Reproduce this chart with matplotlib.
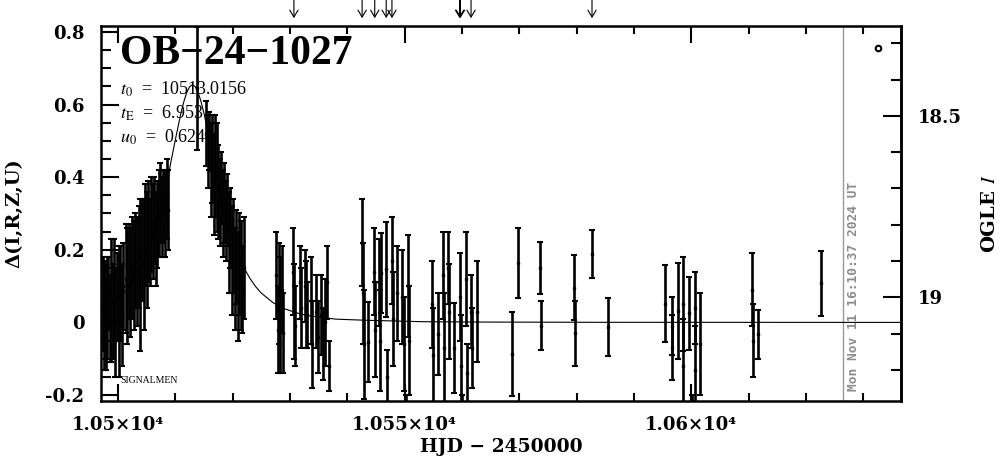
import matplotlib
matplotlib.use("Agg")
import matplotlib.pyplot as plt
from matplotlib.ticker import MultipleLocator, FixedLocator, FixedFormatter

# ---------------- data ----------------
OBS_T = [10497.38, 10497.56, 10497.73, 10497.99, 10498.17, 10498.34, 10498.60, 10498.87,
         10499.13, 10499.30, 10499.56, 10499.83, 10500.17, 10500.44, 10500.70, 10500.96,
         10501.40, 10501.66, 10501.92, 10502.18, 10502.53, 10502.79, 10503.05, 10503.40,
         10503.66, 10503.93, 10504.19,
         10504.54, 10504.80, 10505.06, 10505.32, 10505.58, 10505.85, 10506.11, 10506.37,
         10506.63, 10506.89,
         10507.16, 10507.42, 10507.68, 10507.94, 10508.20, 10508.55, 10508.81,
         10513.79,
         10515.45, 10515.71, 10515.97, 10516.23, 10516.49, 10516.75, 10517.02, 10517.28,
         10517.54, 10517.80, 10518.06, 10518.32, 10518.59, 10518.85, 10519.11,
         10519.37, 10519.63, 10519.90, 10520.16, 10520.42, 10520.68, 10520.94, 10521.20,
         10521.47, 10521.73, 10521.99,
         10527.66, 10527.84, 10528.10, 10528.36, 10528.62, 10528.88, 10530.54, 10530.72,
         10530.89, 10531.68, 10531.94, 10532.55, 10532.81, 10533.07, 10533.60, 10533.86,
         10534.64, 10534.90, 10535.51, 10535.78, 10536.04, 10536.56, 10536.74,
         10542.58, 10542.76, 10542.93, 10543.63, 10544.59, 10544.76, 10545.46, 10545.64,
         10545.90, 10546.68, 10546.86, 10547.73, 10547.91, 10548.60, 10549.56, 10549.83,
         10550.17, 10550.52, 10550.79,
         10554.71, 10554.89, 10555.76, 10556.63, 10556.81, 10557.59, 10557.77, 10558.64,
         10559.60, 10559.77, 10560.03, 10560.65, 10560.82, 10561.52, 10561.69, 10562.65,
         10568.76, 10569.86, 10573.68, 10573.74, 10579.63, 10579.70, 10582.67, 10585.57,
         10595.51, 10596.63, 10596.70, 10597.68, 10598.50, 10598.60, 10599.70, 10600.11,
         10600.64, 10600.70, 10601.62, 10610.65, 10610.72, 10611.64, 10622.57]
OBS_D = [0.05, 0.02, 0.06, -0.01, 0.04, 0.08, 0.01, 0.06,
         0.03, 0.09, 0.00, 0.07, 0.03, 0.08, 0.02, 0.10,
         0.12, 0.10, 0.14, 0.11, 0.15, 0.13, 0.17, 0.14,
         0.18, 0.13, 0.20,
         0.16, 0.24, 0.20, 0.25, 0.22, 0.27, 0.25, 0.28,
         0.23, 0.27,
         0.30, 0.33, 0.29, 0.32, 0.30, 0.34, 0.31,
         0.645,
         0.52, 0.47, 0.50, 0.42, 0.45, 0.38, 0.43, 0.40,
         0.36, 0.33, 0.37, 0.30, 0.33, 0.28, 0.31,
         0.22, 0.26, 0.17, 0.21, 0.12, 0.18, 0.10, 0.16,
         0.13, 0.09, 0.15,
         0.13, -0.02, 0.08, 0.02, 0.09, -0.03, 0.14, 0.03,
         -0.01, 0.11, 0.04, 0.10, 0.05, 0.02, 0.06, -0.06,
         0.03, -0.04, 0.02, -0.06, 0.00, 0.11, -0.12,
         0.22, 0.08, -0.06, -0.055, 0.14, -0.02, 0.11, -0.05,
         0.137, 0.146, -0.15, 0.17, 0.01, 0.08, 0.07, -0.06,
         -0.30, 0.10, -0.05,
         0.05, -0.09, -0.032, 0.13, -0.07, 0.15, 0.03, -0.07,
         0.07, -0.12, -0.31, 0.12, -0.14, 0.03, -0.07, 0.03,
         -0.087, 0.164, 0.149, -0.009, 0.096, -0.03, 0.188, -0.012,
         0.052, -0.01, -0.07, 0.031, 0.05, -0.12, 0.025, -0.30,
         0.04, -0.13, -0.06, 0.09, -0.05, -0.033, 0.108]
OBS_E = [0.13, 0.15, 0.11, 0.12, 0.14, 0.10, 0.12, 0.17,
         0.13, 0.14, 0.15, 0.12, 0.18, 0.13, 0.14, 0.12,
         0.15, 0.16, 0.13, 0.15, 0.14, 0.15, 0.13, 0.15,
         0.14, 0.21, 0.14,
         0.18, 0.14, 0.16, 0.14, 0.12, 0.13, 0.13, 0.12,
         0.13, 0.12,
         0.12, 0.11, 0.11, 0.10, 0.12, 0.11, 0.11,
         0.17,
         0.09, 0.10, 0.08, 0.13, 0.12, 0.14, 0.14, 0.15,
         0.13, 0.12, 0.10, 0.12, 0.11, 0.11, 0.10,
         0.14, 0.11, 0.15, 0.13, 0.14, 0.13, 0.15, 0.14,
         0.15, 0.12, 0.14,
         0.12, 0.12, 0.14, 0.16, 0.12, 0.11, 0.12, 0.13,
         0.11, 0.10, 0.11, 0.10, 0.12, 0.09, 0.12, 0.12,
         0.10, 0.10, 0.11, 0.10, 0.12, 0.10, 0.07,
         0.12, 0.14, 0.15, 0.11, 0.12, 0.13, 0.12, 0.14,
         0.11, 0.13, 0.075, 0.12, 0.13, 0.13, 0.13, 0.13,
         0.10, 0.14, 0.15,
         0.12, 0.13, 0.113, 0.12, 0.15, 0.10, 0.13, 0.124,
         0.12, 0.14, 0.11, 0.13, 0.08, 0.10, 0.11, 0.14,
         0.115, 0.096, 0.072, 0.067, 0.09, 0.09, 0.067, 0.08,
         0.106, 0.08, 0.09, 0.133, 0.13, 0.13, 0.10, 0.10,
         0.10, 0.12, 0.14, 0.10, 0.10, 0.067, 0.09]

# microlensing model curve
MODEL_T = [10497.0, 10499.0, 10501.0, 10502.0, 10503.0, 10504.0, 10505.0, 10506.0,
           10507.0, 10508.0, 10509.0, 10510.0, 10511.0, 10511.5, 10512.0, 10512.5,
           10513.0, 10513.5, 10514.0, 10514.5, 10515.0, 10516.0, 10517.0, 10518.0,
           10519.0, 10520.0, 10521.0, 10522.0, 10523.0, 10524.0, 10525.0, 10527.0,
           10529.0, 10531.0, 10533.0, 10538.0, 10543.0, 10553.0, 10563.0, 10583.0,
           10637.0]
MODEL_D = [0.038, 0.055, 0.081, 0.099, 0.122, 0.150, 0.186, 0.230,
           0.284, 0.348, 0.422, 0.502, 0.577, 0.608, 0.633, 0.649,
           0.655, 0.649, 0.633, 0.608, 0.577, 0.502, 0.422, 0.348,
           0.284, 0.230, 0.186, 0.150, 0.122, 0.099, 0.081, 0.055,
           0.038, 0.027, 0.019, 0.009, 0.006, 0.002, 0.001, 0.0003,
           0.0]

ARROW_T = [10530.7, 10542.6, 10544.8, 10546.8, 10547.8, 10559.6, 10559.75, 10561.6, 10582.7]

TITLE = "OB\u221224\u22121027"
PARAMS = [r"$t_0$  =  10513.0156", r"$t_\mathrm{E}$  =  6.953", r"$u_0$  =  0.6244"]
DATE_T = 10626.4
DATE_TEXT = "Mon Nov 11 16:10:37 2024 UT"
I_BASE = 19.069
X_TICKS = [10500, 10550, 10600]
X_LABELS = ["1.05\u00d710\u2074", "1.055\u00d710\u2074", "1.06\u00d710\u2074"]
Y_TICKS = [-0.2, 0.0, 0.2, 0.4, 0.6, 0.8]
Y_LABELS = ["-0.2", "0", "0.2", "0.4", "0.6", "0.8"]
MAG_TICKS = [18.5, 19.0]
MAG_LABELS = ["18.5", "19"]

# ---------------- figure ----------------
plt.rcParams['font.family'] = ['DejaVu Serif']
plt.rcParams['mathtext.fontset'] = 'stix'

fig = plt.figure(figsize=(10.04, 4.59), dpi=100)
ax = fig.add_axes([101/1004, 1-401/459, 800/1004, 375/459])
ax.set_xlim(10497.05, 10636.6)
ax.set_ylim(-0.2165, 0.8165)

ax.plot(MODEL_T, MODEL_D, color='k', lw=0.8, zorder=2)
ax.errorbar(OBS_T, OBS_D, yerr=OBS_E, fmt='s', ms=2.0, color='k', ecolor='k',
            elinewidth=1.9, capsize=2.2, capthick=1.5, zorder=3)

ax.axvline(DATE_T, color='0.6', lw=1.0, zorder=1)
ax.text(DATE_T + 0.7, -0.19, DATE_TEXT, rotation=90, color='0.55', fontsize=9.3,
        family='DejaVu Sans Mono', weight='bold', ha='left', va='bottom')

ax.plot([10632.6], [0.756], marker='o', ms=4, mfc='none', mec='k', mew=1.5)

for s in ax.spines.values():
    s.set_linewidth(1.8)

ax.xaxis.set_major_locator(FixedLocator(X_TICKS))
ax.xaxis.set_major_formatter(FixedFormatter(X_LABELS))
ax.xaxis.set_minor_locator(MultipleLocator(10))
ax.yaxis.set_major_locator(FixedLocator(Y_TICKS))
ax.yaxis.set_major_formatter(FixedFormatter(Y_LABELS))
ax.yaxis.set_minor_locator(MultipleLocator(0.05))
ax.tick_params(axis='both', which='both', direction='in', top=True, right=False,
               labelsize=13, width=1.5)
ax.tick_params(axis='x', which='major', length=12, pad=11)
ax.tick_params(axis='x', which='minor', length=6)
ax.tick_params(axis='y', which='major', length=13, pad=12)
ax.tick_params(axis='y', which='minor', length=7)
for lab in ax.get_xticklabels() + ax.get_yticklabels():
    lab.set_fontweight('bold')

sec = ax.secondary_yaxis('right', functions=(lambda d: I_BASE - d, lambda m: I_BASE - m))
sec.set_yticks(MAG_TICKS)
sec.set_yticklabels(MAG_LABELS)
sec.yaxis.set_minor_locator(MultipleLocator(0.1))
sec.tick_params(which='both', direction='in', labelsize=13, width=1.5, pad=12)
sec.tick_params(which='major', length=13)
sec.tick_params(which='minor', length=7)
for lab in sec.get_yticklabels():
    lab.set_fontweight('bold')
sec.spines['right'].set_linewidth(1.8)

ax.set_xlabel("HJD \u2212 2450000", fontsize=13.5, weight='bold', labelpad=3)
ax.set_ylabel("\u0394(I,R,Z,U)", fontsize=14, weight='bold', labelpad=16)
sec.set_ylabel(r"OGLE $\mathbf{\mathit{I}}$", fontsize=14, weight='bold', labelpad=14)

ax.text(0.024, 0.925, TITLE, transform=ax.transAxes, fontsize=30, weight='bold',
        family='Liberation Serif', va='center', ha='left')
for i, p in enumerate(PARAMS):
    ax.text(0.024, 0.832 - i * 0.064, p, transform=ax.transAxes, fontsize=13,
            family='Liberation Serif', va='center', ha='left')
ax.text(10500.4, -0.16, "SIGNALMEN", fontsize=7, family='Liberation Serif',
        va='center', ha='left')

for t in ARROW_T:
    ax.annotate('', xy=(t, 1.021), xycoords=('data', 'axes fraction'),
                xytext=(t, 1.072), textcoords=('data', 'axes fraction'),
                arrowprops=dict(arrowstyle='->,head_length=0.5,head_width=0.3',
                                lw=0.8, color='k', shrinkA=0, shrinkB=0),
                annotation_clip=False)

fig.savefig("out.png", dpi=100)
